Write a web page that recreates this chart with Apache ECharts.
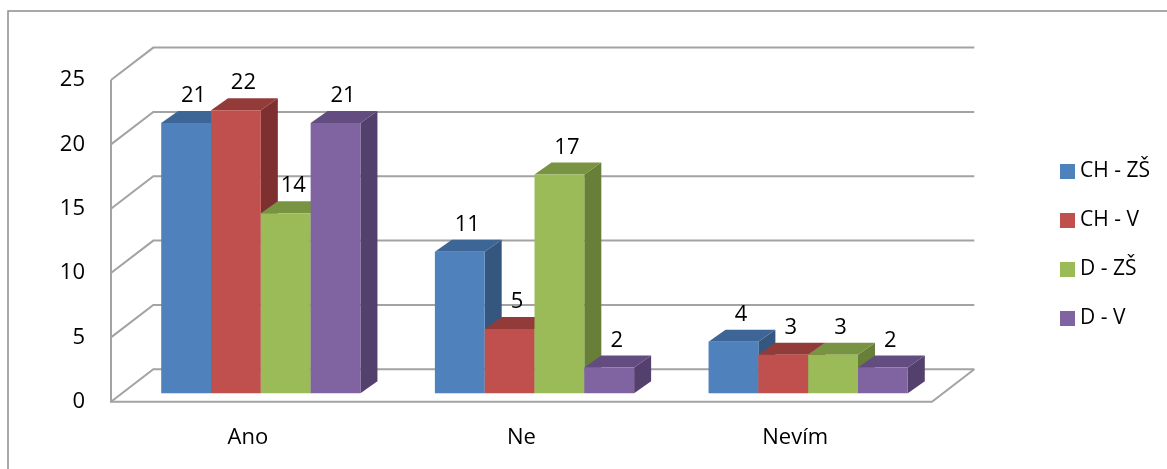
<!DOCTYPE html>
<html>
<head>
<meta charset="utf-8">
<script src="https://cdn.jsdelivr.net/npm/echarts@6/dist/echarts.min.js"></script>
<style>
  html, body { margin: 0; padding: 0; background: #ffffff; }
  #chart { width: 1167px; height: 469px; }
</style>
</head>
<body>
<div id="chart"></div>
<script>
// Survey answers per group
const categories = ['Ano', 'Ne', 'Nevím'];
const seriesNames = ['CH - ZŠ', 'CH - V', 'D - ZŠ', 'D - V'];
const chZs = [21, 11, 4];
const chV = [22, 5, 3];
const dZs = [14, 17, 3];
const dV = [21, 2, 2];
const yTicks = [0, 5, 10, 15, 20, 25];

const seriesValues = [chZs, chV, dZs, dV];

// Face shades for the pseudo-3D columns
const faceColors = [
  { front: '#4f81bd', top: '#3d6596', side: '#34567f' },
  { front: '#c0504d', top: '#933b39', side: '#7d302f' },
  { front: '#9bbb59', top: '#789442', side: '#677f38' },
  { front: '#8064a2', top: '#634c7f', side: '#54406c' }
];

const FONT = '"Open Sans", "Noto Sans", sans-serif';
const DEPTH = [42.3, -32.4];     // floor / side wall depth in px
const BAR_SHIFT = [13, -8.4];    // column front plane relative to floor front edge
const BAR_DEPTH = [17, -12];     // column depth in px
const GROUP_RATIO = 0.728;       // share of a category taken by its columns
const WALL_COLOR = '#a3a3a3';

function wallItem(params, api) {
  const cs = params.coordSys;
  const y = api.coord([0, api.value(0)])[1];
  const x0 = cs.x, x1 = cs.x + cs.width;
  return {
    type: 'polyline',
    shape: { points: [[x0, y], [x0 + DEPTH[0], y + DEPTH[1]], [x1 + DEPTH[0], y + DEPTH[1]]] },
    style: { stroke: WALL_COLOR, lineWidth: 2, fill: null }
  };
}

function floorItem(params, api) {
  const cs = params.coordSys;
  const x0 = cs.x, x1 = cs.x + cs.width;
  const y0 = api.coord([0, yTicks[0]])[1];
  const yTop = api.coord([0, yTicks[yTicks.length - 1]])[1];
  return {
    type: 'polyline',
    shape: { points: [[x0, yTop], [x0, y0], [x1, y0], [x1 + DEPTH[0], y0 + DEPTH[1]]] },
    style: { stroke: WALL_COLOR, lineWidth: 2, fill: null }
  };
}

function barRenderer(si) {
  return function (params, api) {
    const cat = api.value(0), v = api.value(1);
    const base = api.coord([cat, 0]);
    const top = api.coord([cat, v]);
    const catW = api.size([1, 0])[0];
    const groupW = catW * GROUP_RATIO;
    const barW = groupW / seriesValues.length;
    const x0 = base[0] - groupW / 2 + si * barW + BAR_SHIFT[0];
    const x1 = x0 + barW;
    const yb = base[1] + BAR_SHIFT[1];
    const yt = top[1] + BAR_SHIFT[1];
    const dx = BAR_DEPTH[0], dy = BAR_DEPTH[1];
    const c = faceColors[si];
    return {
      type: 'group',
      children: [
        { type: 'polygon', shape: { points: [[x1, yb], [x1 + dx, yb + dy], [x1 + dx, yt + dy], [x1, yt]] },
          style: { fill: c.side } },
        { type: 'polygon', shape: { points: [[x0, yt], [x1, yt], [x1 + dx, yt + dy], [x0 + dx, yt + dy]] },
          style: { fill: c.top } },
        { type: 'rect', shape: { x: x0, y: yt, width: barW, height: yb - yt },
          style: { fill: c.front } },
        { type: 'text', x: (x0 + x1) / 2 + dx / 2 - 1, y: yt + dy - 15,
          style: { text: String(v), fill: '#000000', font: '22px ' + FONT, align: 'center', verticalAlign: 'middle' } }
      ]
    };
  };
}

const barSeries = seriesNames.map(function (name, si) {
  return {
    name: name,
    type: 'custom',
    z: 3 + si,
    renderItem: barRenderer(si),
    itemStyle: { color: faceColors[si].front },
    encode: { x: 0, y: 1 },
    data: categories.map(function (c, j) { return [j, seriesValues[si][j]]; })
  };
});

const chart = echarts.init(document.getElementById('chart'), null, { renderer: 'canvas' });
chart.setOption({
  animation: false,
  backgroundColor: '#ffffff',
  graphic: [{
    type: 'rect',
    shape: { x: 8, y: 11, width: 1180, height: 480 },
    style: { fill: null, stroke: '#8c8c8c', lineWidth: 1.5 },
    silent: true
  }],
  grid: { left: 111, top: 80, width: 821, height: 321.7 },
  legend: {
    orient: 'vertical',
    left: 1055,
    top: 156,
    icon: 'rect',
    itemWidth: 15,
    itemHeight: 15,
    itemGap: 28,
    textStyle: { fontFamily: FONT, fontSize: 21, color: '#000000' },
    data: seriesNames
  },
  xAxis: {
    type: 'category',
    data: categories,
    axisLine: { show: false },
    axisTick: { show: false },
    axisLabel: { margin: 25, fontFamily: FONT, fontSize: 22, color: '#000000' }
  },
  yAxis: {
    type: 'value',
    min: 0,
    max: 25,
    interval: 5,
    axisLine: { show: false },
    axisTick: { show: false },
    splitLine: { show: false },
    axisLabel: { margin: 26, fontFamily: FONT, fontSize: 22, color: '#000000', padding: [6, 0, 0, 0] }
  },
  series: [
    { type: 'custom', z: 1, renderItem: wallItem, encode: { y: 0 }, data: yTicks.map(function (v) { return [v]; }), silent: true },
    { type: 'custom', z: 2, renderItem: floorItem, data: [[0]], silent: true }
  ].concat(barSeries)
});
</script>
</body>
</html>
